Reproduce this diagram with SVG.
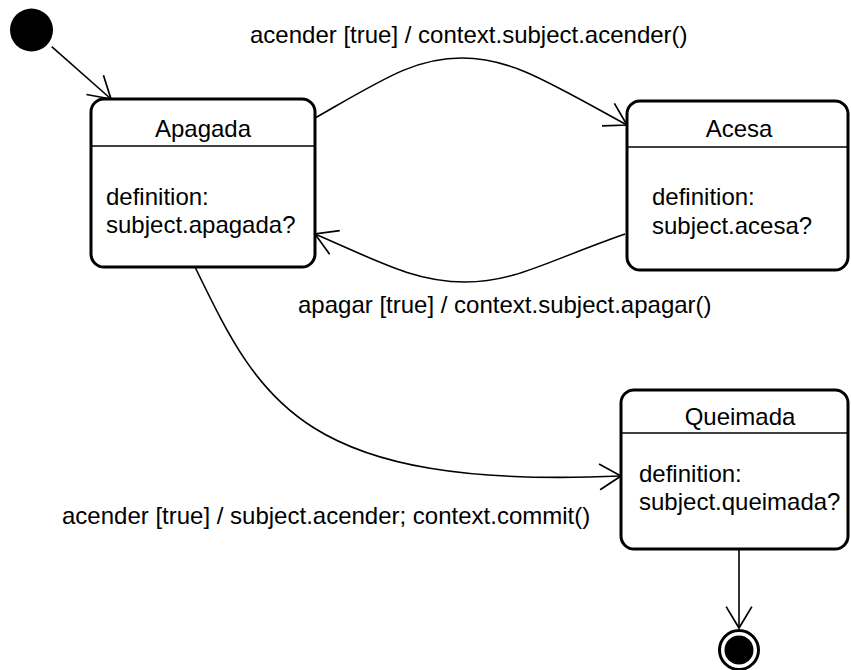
<svg xmlns="http://www.w3.org/2000/svg" width="851" height="670" viewBox="0 0 851 670">
<style>
text{font-family:"Liberation Sans",Arial,sans-serif;font-size:24px;fill:#000}
.box{fill:#fff;stroke:#000;stroke-width:3}
.hdr{stroke:#000;stroke-width:1.5}
.edge{fill:none;stroke:#000;stroke-width:1.6}
.mid{text-anchor:middle}
</style>
<defs>
<marker id="open" markerUnits="userSpaceOnUse" markerWidth="30" markerHeight="30" viewBox="-22 -14 24 28" refX="0" refY="0" orient="auto">
<path d="M-20,-12 L0,0 L-20,12" fill="none" stroke="#000" stroke-width="1.6"/>
</marker>
</defs>
<rect width="851" height="670" fill="#fff"/>
<g id="connectors">
<path class="edge" d="M51.7,46.7 L111,99" marker-end="url(#open)"/>
<path class="edge" d="M315,118 C385,78 415,58 462,58 C510,58 545,80 627,125" marker-end="url(#open)"/>
<path class="edge" d="M625,234 C545,262 515,282 465,282 C415,282 380,262 315,234" marker-end="url(#open)"/>
<path class="edge" d="M195,267 C260,400 300,490 621,476" marker-end="url(#open)"/>
<path class="edge" d="M739,550 L739,628" marker-end="url(#open)"/>
<text x="250" y="43">acender [true] / context.subject.acender()</text>
<text x="298" y="313">apagar [true] / context.subject.apagar()</text>
<text x="62" y="524">acender [true] / subject.acender; context.commit()</text>
</g>
<g id="initial">
<circle cx="31.5" cy="30" r="21.5" fill="#000"/>
</g>
<g id="Apagada">
<rect class="box" x="91" y="99" width="224" height="168" rx="13"/>
<line class="hdr" x1="91" y1="146" x2="315" y2="146"/>
<text class="mid" x="203" y="137">Apagada</text>
<text x="106" y="205">definition:</text>
<text x="106" y="233">subject.apagada?</text>
</g>
<g id="Acesa">
<rect class="box" x="627" y="101" width="221" height="169" rx="13"/>
<line class="hdr" x1="627" y1="147" x2="848" y2="147"/>
<text class="mid" x="739" y="137">Acesa</text>
<text x="652" y="205">definition:</text>
<text x="652" y="234">subject.acesa?</text>
</g>
<g id="Queimada">
<rect class="box" x="621" y="390" width="227" height="159" rx="13"/>
<line class="hdr" x1="621" y1="433" x2="848" y2="433"/>
<text class="mid" x="740" y="425">Queimada</text>
<text x="639" y="482">definition:</text>
<text x="639" y="510">subject.queimada?</text>
</g>
<g id="final">
<circle cx="739" cy="650" r="19.5" fill="#fff" stroke="#000" stroke-width="3"/>
<circle cx="739" cy="650" r="14.5" fill="#000"/>
</g>
</svg>
